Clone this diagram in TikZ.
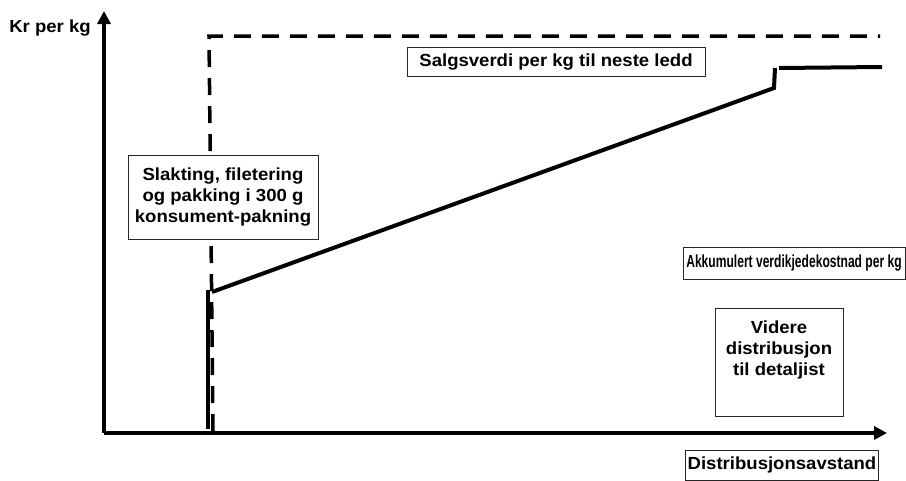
\documentclass[tikz,border=0pt]{standalone}
\usepackage{fontspec}
\setmainfont{Liberation Sans}[FakeStretch=1.06]
\newfontfamily\narrowfont{Liberation Sans}[FakeStretch=0.69]
\usetikzlibrary{arrows.meta}

\begin{document}
\begin{tikzpicture}[x=1pt,y=-1pt,
    font=\fontsize{17.5}{21}\selectfont\bfseries,
    axis/.style={line width=3.5pt,-{Triangle[length=13pt,width=13pt]}},
    salesline/.style={line width=3.5pt,dash pattern=on 17pt off 11pt},
    costline/.style={line width=4pt},
    labelbox/.style={draw=black!85,line width=1pt,fill=white,inner sep=2pt,align=center}]
    \useasboundingbox (0,0) rectangle (906,480);

    % axes
    \coordinate (origin) at (104,433);
    \coordinate (ytip) at (104,11);
    \coordinate (xtip) at (887,433);
    \draw[axis] (origin) -- (ytip);
    \draw[axis] (origin) -- (xtip);
    \node (yname) at (50,28) {Kr per kg};

    % salgsverdi
    \coordinate (s0) at (213,431);
    \coordinate (s1) at (209,36);
    \coordinate (s2) at (880,36);
    \draw[salesline] (s0) -- (s1) -- (s2);

    % kostnad
    \coordinate (k0) at (208,429);
    \coordinate (k1) at (208,290);
    \coordinate (k2) at (212,292);
    \coordinate (k3) at (774,88);
    \coordinate (k4) at (775,68);
    \coordinate (k5) at (779,68);
    \coordinate (k6) at (882,67);
    \draw[costline] (k0) -- (k1);
    \draw[costline] (k2) -- (k3) -- (k4);
    \draw[costline] (k5) -- (k6);

    % boxes
    \node[labelbox, minimum width=190pt, minimum height=84pt] (slakt) at (223,197)
        {Slakting, filetering\\og pakking i 300 g\\konsument-pakning};
    \node[labelbox, minimum width=298pt, minimum height=29pt] (salg) at (556,62)
        {Salgsverdi per kg til neste ledd};
    \node[labelbox, minimum width=222pt, minimum height=32pt] (akk) at (794,263)
        {\narrowfont\bfseries Akkumulert verdikjedekostnad per kg};
    \node[labelbox, minimum width=128pt, minimum height=108pt] (videre) at (779,362)
        {\parbox[c][100pt][t]{120pt}{\vspace*{9pt}\centering Videre\\distribusjon\\til detaljist}};
    \node[labelbox, minimum width=192pt, minimum height=30pt] (xname) at (782,465)
        {Distribusjonsavstand};
\end{tikzpicture}
\end{document}
